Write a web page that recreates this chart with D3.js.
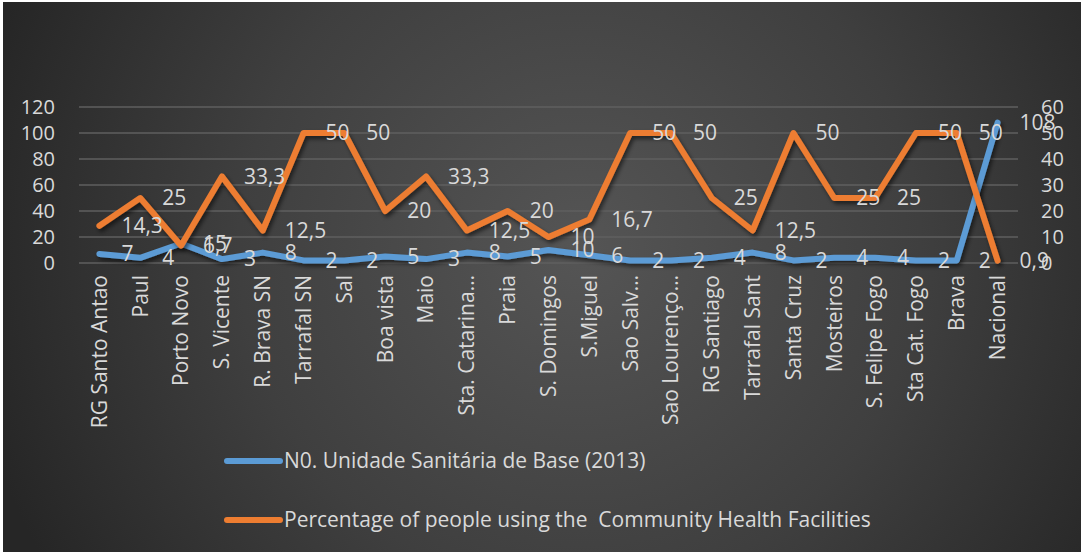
<!DOCTYPE html>
<html>
<head>
<meta charset="utf-8">
<script src="https://cdn.jsdelivr.net/npm/d3@7"></script>
<style>
  html, body { margin: 0; padding: 0; background: #ffffff; }
  svg { display: block; }
  text { font-family: "Open Sans", Lato, sans-serif; fill: #d9d9d9; white-space: pre; }
</style>
</head>
<body>
<svg id="chart" width="1081" height="552"></svg>
<script>
// Municipalities / health regions of Cabo Verde
const categories = [
  "RG Santo Antao", "Paul", "Porto Novo", "S. Vicente", "R. Brava SN", "Tarrafal SN",
  "Sal", "Boa vista", "Maio", "Sta. Catarina\u2026", "Praia", "S. Domingos", "S.Miguel",
  "Sao Salv\u2026", "Sao Louren\u00e7o\u2026", "RG Santiago", "Tarrafal Sant", "Santa Cruz",
  "Mosteiros", "S. Felipe Fogo", "Sta Cat. Fogo", "Brava", "Nacional"
];

// Number of basic health units (2013) — left axis
const unitsCount = [7, 4, 15, 3, 8, 2, 2, 5, 3, 8, 5, 10, 6, 2, 2, 4, 8, 2, 4, 4, 2, 2, 108];

// Percentage of people using the community health facilities — right axis
const usagePct = [14.3, 25, 6.7, 33.3, 12.5, 50, 50, 20, 33.3, 12.5, 20, 10, 16.7, 50, 50, 25, 12.5, 50, 25, 25, 50, 50, 0.9];

const leftTicks = [0, 20, 40, 60, 80, 100, 120];
const rightTicks = [0, 10, 20, 30, 40, 50, 60];

const seriesNames = [
  "N0. Unidade Sanit\u00e1ria de Base (2013)",
  "Percentage of people using the  Community Health Facilities"
];

const blue = "#5b9bd5";
const orange = "#ed7d31";
const FONT = "'Open Sans', Lato, sans-serif";

const svg = d3.select("#chart");
const W = 1081, H = 552;

// background with radial shading
const defs = svg.append("defs");
const grad = defs.append("radialGradient").attr("id", "bg")
  .attr("gradientUnits", "userSpaceOnUse")
  .attr("cx", 580).attr("cy", 250).attr("r", 620);
grad.append("stop").attr("offset", "0%").attr("stop-color", "#555555");
grad.append("stop").attr("offset", "55%").attr("stop-color", "#3f3f3f");
grad.append("stop").attr("offset", "100%").attr("stop-color", "#262626");

const shadow = defs.append("filter").attr("id", "shadow")
  .attr("x", "-5%").attr("y", "-20%").attr("width", "110%").attr("height", "140%");
shadow.append("feDropShadow")
  .attr("dx", 2).attr("dy", 3).attr("stdDeviation", 2)
  .attr("flood-color", "#000").attr("flood-opacity", 0.55);

svg.append("rect").attr("x", 3).attr("y", 2).attr("width", W - 3).attr("height", H - 2)
  .attr("fill", "url(#bg)");

const plot = { left: 79, right: 1018, top: 107, bottom: 263 };

const x = d3.scaleBand().domain(categories).range([plot.left, plot.right]).padding(0);
const cx = d => x(d) + x.bandwidth() / 2;
const yL = d3.scaleLinear().domain([0, 120]).range([plot.bottom, plot.top]);
const yR = d3.scaleLinear().domain([0, 60]).range([plot.bottom, plot.top]);

// gridlines
svg.append("g").selectAll("line").data(leftTicks).join("line")
  .attr("x1", plot.left).attr("x2", plot.right)
  .attr("y1", d => yL(d)).attr("y2", d => yL(d))
  .attr("stroke", "#5f5f5f").attr("stroke-width", 1.3);

function styleText(sel, size) {
  sel.attr("font-size", size || 21).style("font-family", FONT).attr("fill", "#d9d9d9");
}

// left axis
const axL = svg.append("g").attr("transform", `translate(${plot.left},0)`)
  .call(d3.axisLeft(yL).tickValues(leftTicks).tickSize(0).tickPadding(24));
axL.select(".domain").remove();
axL.selectAll("text").call(styleText, 20);

// right axis
const axR = svg.append("g").attr("transform", `translate(${plot.right},0)`)
  .call(d3.axisRight(yR).tickValues(rightTicks).tickSize(0).tickPadding(23));
axR.select(".domain").remove();
axR.selectAll("text").call(styleText, 20);

// category labels (rotated)
const axX = svg.append("g").attr("transform", `translate(0,${plot.bottom})`)
  .call(d3.axisBottom(x).tickSize(0).tickPadding(0));
axX.select(".domain").remove();
axX.selectAll("text").call(styleText, 21)
  .attr("text-anchor", "end").attr("dy", "0.35em")
  .attr("transform", "translate(0,12) rotate(-90)")
  .attr("x", 0).attr("y", 0);

// lines
const lineL = d3.line().x((d, i) => cx(categories[i])).y(d => yL(d));
const lineR = d3.line().x((d, i) => cx(categories[i])).y(d => yR(d));

svg.append("path").datum(unitsCount).attr("d", lineL)
  .attr("fill", "none").attr("stroke", blue).attr("stroke-width", 6)
  .attr("stroke-linejoin", "round").attr("stroke-linecap", "round")
  .attr("filter", "url(#shadow)");

svg.append("path").datum(usagePct).attr("d", lineR)
  .attr("fill", "none").attr("stroke", orange).attr("stroke-width", 6)
  .attr("stroke-linejoin", "round").attr("stroke-linecap", "round")
  .attr("filter", "url(#shadow)");

// data labels, placed to the right of each point
const ptFmt = d3.formatLocale({ decimal: ",", thousands: ".", grouping: [3], currency: ["", ""] });
const fmt = v => Number.isInteger(v) ? String(v) : ptFmt.format(".1f")(v);

svg.append("g").selectAll("text").data(unitsCount).join("text")
  .attr("x", (d, i) => cx(categories[i]) + 22)
  .attr("y", d => yL(d))
  .attr("dy", "0.35em")
  .call(styleText, 21)
  .text(d => fmt(d));

svg.append("g").selectAll("text").data(usagePct).join("text")
  .attr("x", (d, i) => cx(categories[i]) + 22)
  .attr("y", d => yR(d))
  .attr("dy", "0.35em")
  .call(styleText, 21)
  .text(d => fmt(d));

// legend
const legendRows = [
  { name: seriesNames[0], color: blue, y: 461 },
  { name: seriesNames[1], color: orange, y: 520 }
];
const lg = svg.append("g").selectAll("g").data(legendRows).join("g")
  .attr("transform", d => `translate(0,${d.y})`);
lg.append("line").attr("x1", 227).attr("x2", 280).attr("y1", 0).attr("y2", 0)
  .attr("stroke", d => d.color).attr("stroke-width", 6).attr("stroke-linecap", "round");
lg.append("text").attr("x", 284).attr("y", 0).attr("dy", "0.35em")
  .attr("xml:space", "preserve")
  .call(styleText, 21).text(d => d.name);
</script>
</body>
</html>
